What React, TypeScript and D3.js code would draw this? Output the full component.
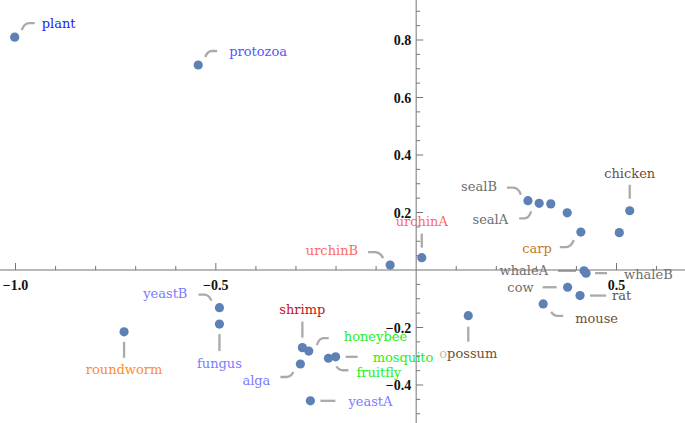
import React from "react";
import * as d3 from "d3";

const names = ["plant","protozoa","urchinB","urchinA","sealB","sealA","seal3","seal4","carp","chicken","bird2","whaleA","whaleB","cow","rat","mouse","opossum","roundworm","yeastB","fungus","shrimp","honeybee","alga","fruitfly","mosquito","yeastA"];
const xs = [-1.002,-0.544,-0.065,0.014,0.279,0.307,0.336,0.377,0.411,0.533,0.507,0.419,0.424,0.378,0.409,0.317,0.130,-0.729,-0.491,-0.491,-0.284,-0.268,-0.289,-0.219,-0.201,-0.264];
const ys = [0.810,0.713,0.017,0.043,0.241,0.232,0.230,0.199,0.132,0.206,0.130,-0.003,-0.011,-0.060,-0.089,-0.118,-0.159,-0.215,-0.131,-0.188,-0.270,-0.282,-0.327,-0.307,-0.302,-0.455];
const xMajor = [-1.0, -0.5, 0.5];
const yMajor = [0.8, 0.6, 0.4, 0.2, -0.2, -0.4];

// label colours
const labelColors: Record<string, string> = {
  plant: "#2323ee", protozoa: "#5454ff",
  yeastB: "#7b7bff", fungus: "#7b7bff", alga: "#7b7bff", yeastA: "#7b7bff",
  roundworm: "#ff8c1f", shrimp: "#c01414",
  honeybee: "#22f022", mosquito: "#22f022", fruitfly: "#22f022",
  urchinA: "#ff6868", urchinB: "#ff6868",
  sealA: "#6e6e6e", sealB: "#6e6e6e", whaleA: "#6e6e6e", whaleB: "#6e6e6e", cow: "#6e6e6e",
  carp: "#c4782e",
  chicken: "#6e5038", rat: "#6e5038", mouse: "#6e5038", opossum: "#6e5038",
};

// callout layout (pixel offsets relative to the point)
type Callout = { t: "h" | "v" | "c"; s: [number, number]; e: [number, number]; l: [number, number]; a: "start" | "end" | "middle" };
const callouts: Record<string, Callout> = {
  plant: { t: "c", s: [7, -7], e: [20, -14], l: [27, -14], a: "start" },
  protozoa: { t: "c", s: [7, -8], e: [19, -14], l: [31, -14], a: "start" },
  sealB: { t: "c", s: [-7, -6], e: [-21, -13], l: [-31, -14], a: "end" },
  sealA: { t: "c", s: [-8, 8], e: [-20, 15], l: [-31, 16], a: "end" },
  carp: { t: "c", s: [-7, 8], e: [-21, 15], l: [-29, 16], a: "end" },
  chicken: { t: "v", s: [0, -12], e: [0, -26], l: [0, -37], a: "middle" },
  whaleA: { t: "h", s: [-8, 0], e: [-26, 0], l: [-36, 0], a: "end" },
  whaleB: { t: "h", s: [9, 0], e: [21, 0], l: [38, 1], a: "start" },
  cow: { t: "h", s: [-11, 0], e: [-25, 0], l: [-34, 0], a: "end" },
  rat: { t: "h", s: [10, 0], e: [26, 0], l: [32, 0], a: "start" },
  mouse: { t: "c", s: [8, 8], e: [20, 12], l: [32, 15], a: "start" },
  opossum: { t: "v", s: [0, 11], e: [0, 26], l: [0, 38], a: "middle" },
  urchinB: { t: "c", s: [-7, -7], e: [-22, -13], l: [-32, -15], a: "end" },
  urchinA: { t: "v", s: [0, -10], e: [0, -24], l: [0, -36], a: "middle" },
  roundworm: { t: "v", s: [0, 10], e: [0, 26], l: [0, 38], a: "middle" },
  yeastB: { t: "c", s: [-8, -7], e: [-21, -13], l: [-32, -14], a: "end" },
  fungus: { t: "v", s: [0, 10], e: [0, 27], l: [0, 39], a: "middle" },
  shrimp: { t: "v", s: [0, -10], e: [0, -26], l: [0, -38], a: "middle" },
  alga: { t: "c", s: [-7, 8], e: [-20, 13], l: [-30, 16], a: "end" },
  honeybee: { t: "c", s: [8, -6], e: [20, -13], l: [35, -15], a: "start" },
  mosquito: { t: "h", s: [10, 0], e: [22, 0], l: [37, 1], a: "start" },
  fruitfly: { t: "c", s: [8, 8], e: [20, 12], l: [28, 14], a: "start" },
  yeastA: { t: "h", s: [10, 0], e: [25, 0], l: [38, 1], a: "start" },
};

const W = 685, H = 423;
const x = d3.scaleLinear().domain([-1, 0.5]).range([15.5, 616.5]);
const y = d3.scaleLinear().domain([-0.4, 0.8]).range([385, 40]);
const fmt = (v: number) => d3.format(".1f")(v).replace("-", "\u2212");

function leaderPath(px: number, py: number, c: Callout) {
  const sx = px + c.s[0], sy = py + c.s[1], ex = px + c.e[0], ey = py + c.e[1];
  if (c.t !== "c") return `M${sx},${sy}L${ex},${ey}`;
  const mx = sx + (ex - sx) * 0.55;
  const cx = sx + (ex - sx) * 0.2;
  return `M${sx},${sy}Q${cx},${ey} ${mx},${ey}L${ex},${ey}`;
}

export default function App() {
  const x0 = x(0), y0 = y(0);
  const xMinor = d3.range(-10, 7).map((i) => i / 10).filter((v) => Math.abs(v) > 1e-9);
  const yMinor = d3.range(-10, 19).map((i) => i / 20).filter((v) => Math.abs(v) > 1e-9);
  const isMajX = (v: number) => xMajor.some((m) => Math.abs(m - v) < 1e-9);
  const isMajY = (v: number) => Math.abs(Math.round(v * 5) - v * 5) < 1e-9;
  const axisColor = "#757575";
  return (
    <svg width={W} height={H} style={{ position: "absolute", left: 0, top: 0, background: "#fff" }}>
      {/* leaders */}
      <g fill="none" stroke="#aaaaaa" strokeWidth={2.3}>
        {names.map((n, i) => callouts[n] ? (
          <path key={n} d={leaderPath(x(xs[i]), y(ys[i]), callouts[n])} />
        ) : null)}
      </g>
      {/* labels */}
      <g fontFamily="'DejaVu Serif', serif" fontSize={13}>
        {names.map((n, i) => {
          const c = callouts[n];
          if (!c) return null;
          const lx = x(xs[i]) + c.l[0], ly = y(ys[i]) + c.l[1] + 4.5;
          if (n === "opossum") {
            return (
              <text key={n} x={lx} y={ly} textAnchor={c.a} fill={labelColors[n]}>
                <tspan fill="#cbbcae">o</tspan>possum
              </text>
            );
          }
          return <text key={n} x={lx} y={ly} textAnchor={c.a} fill={labelColors[n]}>{n}</text>;
        })}
      </g>
      {/* axes */}
      <g stroke={axisColor} strokeWidth={1}>
        <line x1={0} x2={W} y1={y0} y2={y0} />
        <line x1={x0} x2={x0} y1={0} y2={H} />
        {xMinor.map((v) => (
          <line key={"xt" + v} x1={x(v)} x2={x(v)} y1={y0} y2={y0 - (isMajX(v) ? 7 : 4)} />
        ))}
        {yMinor.map((v) => (
          <line key={"yt" + v} x1={x0} x2={x0 + (isMajY(v) ? 7 : 4)} y1={y(v)} y2={y(v)} />
        ))}
      </g>
      <g fontFamily="'Liberation Serif', serif" fontWeight="bold" fontSize={14} fill="#111">
        {xMajor.map((v) => (
          <text key={"xl" + v} x={x(v)} y={y0 + 20} textAnchor="middle">{fmt(v)}</text>
        ))}
        {yMajor.map((v) => (
          <text key={"yl" + v} x={x0 - 5} y={y(v) + 5} textAnchor="end">{fmt(v)}</text>
        ))}
      </g>
      {/* points */}
      <g fill="#5e81b5">
        {names.map((n, i) => (
          <circle key={n} cx={x(xs[i])} cy={y(ys[i])} r={4.6} />
        ))}
      </g>
    </svg>
  );
}
